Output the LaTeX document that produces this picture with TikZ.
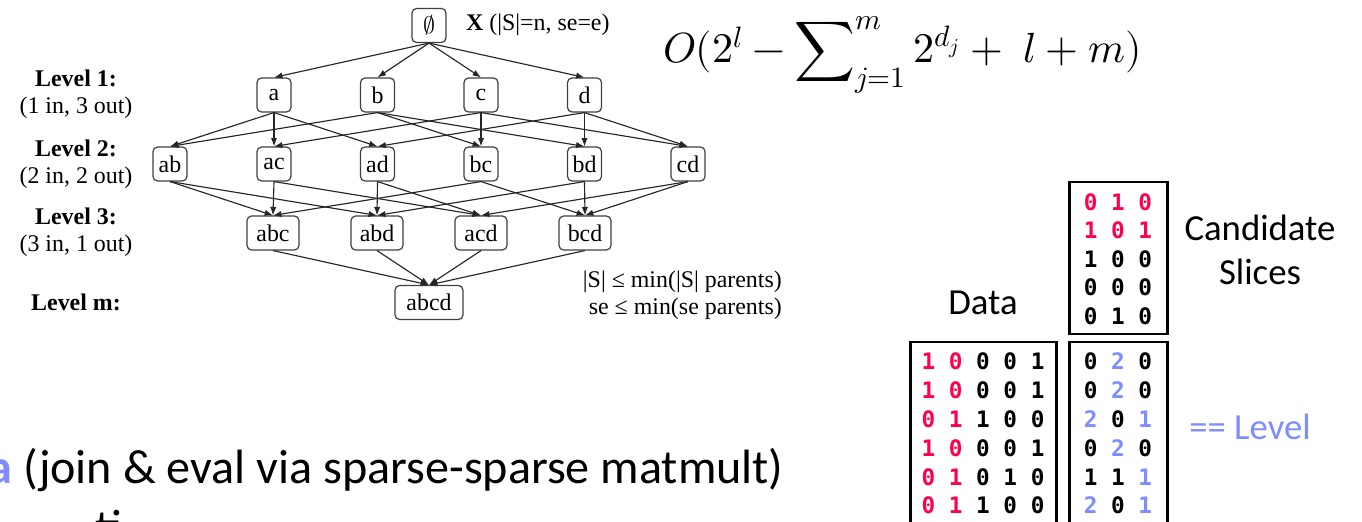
\documentclass[tikz,border=0pt]{standalone}
\usepackage{fontspec}
\usepackage{unicode-math}
\setmainfont{Liberation Serif}
\setmathfont{Latin Modern Math}
\newfontfamily\slidefont{Carlito}
\newfontfamily\bitfont{DejaVu Sans Mono}
\usetikzlibrary{arrows.meta}
\definecolor{hotred}{RGB}{255,0,80}
\definecolor{lvlblue}{RGB}{125,140,255}
\newcommand{\hr}[1]{\textcolor{hotred}{#1}}
\newcommand{\lb}[1]{\textcolor{lvlblue}{#1}}
\begin{document}
\begin{tikzpicture}[x=0.02cm, y=-0.02cm,
		set/.style={draw=black!75, rounded corners=2.5pt, line width=0.7pt, inner sep=1pt, minimum width=19.3pt, minimum height=19.3pt, font=\fontsize{13.6}{15}\selectfont},
		set3/.style={set, minimum width=29.5pt},
		set4/.style={set, minimum width=38.6pt},
		edge/.style={draw=black!85, line width=0.65pt, -{Latex[length=4.8pt,width=3.6pt]}},
		lvl/.style={align=center, font=\fontsize{13.6}{15.5}\selectfont},
		slide/.style={font=\slidefont\fontsize{20.9}{25}\selectfont},
		bits/.style={font=\bitfont\bfseries\fontsize{12.9}{14}\selectfont, inner sep=0pt},
		mbox/.style={draw, line width=1.7pt}]
	\useasboundingbox (0,0) rectangle (1362,521);
	\clip (0,0) rectangle (1362,521);
	% lattice
	\node[set] (s0) at (429,25.5) {$\emptyset$};
	\node[set] (sa) at (274,95) {a};
	\node[set] (sb) at (377.5,95) {b};
	\node[set] (sc) at (481,95) {c};
	\node[set] (sd) at (584.5,95) {d};
	\node[set] (sab) at (170,164) {ab};
	\node[set] (sac) at (274,164) {ac};
	\node[set] (sad) at (377.5,164) {ad};
	\node[set] (sbc) at (481,164) {bc};
	\node[set] (sbd) at (584.5,164) {bd};
	\node[set] (scd) at (688,164) {cd};
	\node[set3] (sabc) at (273,233) {abc};
	\node[set3] (sabd) at (377,233) {abd};
	\node[set3] (sacd) at (481,233) {acd};
	\node[set3] (sbcd) at (585,233) {bcd};
	\node[set4] (sabcd) at (429,302.5) {abcd};
	\draw[edge] (s0.south) -- (sa.north);
	\draw[edge] (s0.south) -- (sb.north);
	\draw[edge] (s0.south) -- (sc.north);
	\draw[edge] (s0.south) -- (sd.north);
	\draw[edge] (sa.south) -- (sab.north);
	\draw[edge] (sa.south) -- (sac.north);
	\draw[edge] (sa.south) -- (sad.north);
	\draw[edge] (sb.south) -- (sab.north);
	\draw[edge] (sb.south) -- (sbc.north);
	\draw[edge] (sb.south) -- (sbd.north);
	\draw[edge] (sc.south) -- (sac.north);
	\draw[edge] (sc.south) -- (sbc.north);
	\draw[edge] (sc.south) -- (scd.north);
	\draw[edge] (sd.south) -- (sad.north);
	\draw[edge] (sd.south) -- (sbd.north);
	\draw[edge] (sd.south) -- (scd.north);
	\draw[edge] (sab.south) -- (sabc.north);
	\draw[edge] (sab.south) -- (sabd.north);
	\draw[edge] (sac.south) -- (sabc.north);
	\draw[edge] (sac.south) -- (sacd.north);
	\draw[edge] (sad.south) -- (sabd.north);
	\draw[edge] (sad.south) -- (sacd.north);
	\draw[edge] (sbc.south) -- (sabc.north);
	\draw[edge] (sbc.south) -- (sbcd.north);
	\draw[edge] (sbd.south) -- (sabd.north);
	\draw[edge] (sbd.south) -- (sbcd.north);
	\draw[edge] (scd.south) -- (sacd.north);
	\draw[edge] (scd.south) -- (sbcd.north);
	\draw[edge] (sabc.south) -- (sabcd.north);
	\draw[edge] (sabd.south) -- (sabcd.north);
	\draw[edge] (sacd.south) -- (sabcd.north);
	\draw[edge] (sbcd.south) -- (sabcd.north);
	% labels
	\node[lvl, anchor=west] (xlab) at (460,25) {\textbf{X} (|S|=n, se=e)};
	\node[lvl] (lv1) at (76,94) {\textbf{Level 1:}\\(1 in, 3 out)};
	\node[lvl] (lv2) at (76,164) {\textbf{Level 2:}\\(2 in, 2 out)};
	\node[lvl] (lv3) at (76,232) {\textbf{Level 3:}\\(3 in, 1 out)};
	\node[lvl] (lvm) at (76,302) {\textbf{Level m:}};
	\node[lvl, align=right, anchor=east] (bound) at (788,295) {|S| ≤ min(|S| parents)\\se ≤ min(se parents)};
	\node[anchor=west, inner sep=0pt, font=\fontsize{24}{28}\selectfont] (cost) at (663,55) {$\displaystyle O(2^l-\sum\nolimits_{j=1}^m 2^{d_j}+\;l+m)$};
	% matrices
	\node[slide] (data) at (983,303) {Data};
	\node[slide, align=center] (cand) at (1260,250) {Candidate\\Slices};
	\node[slide, text=lvlblue] (lvl) at (1250,427) {== Level};
	\draw[mbox] (1069,182) rectangle (1167,334);
	\draw[mbox] (1069,342) rectangle (1167,540);
	\draw[mbox] (910,342) rectangle (1056,540);
	\node[bits] (c1) at (1118,202) {\hr{0 1 0}};
	\node[bits] (c2) at (1118,230.5) {\hr{1 0 1}};
	\node[bits] (c3) at (1118,259) {1 0 0};
	\node[bits] (c4) at (1118,287.5) {0 0 0};
	\node[bits] (c5) at (1118,316) {0 1 0};
	\node[bits] (d1) at (983,361.7) {\hr{1 0} 0 0 1};
	\node[bits] (d2) at (983,390.5) {\hr{1 0} 0 0 1};
	\node[bits] (d3) at (983,419.3) {\hr{0 1} 1 0 0};
	\node[bits] (d4) at (983,448.1) {\hr{1 0} 0 0 1};
	\node[bits] (d5) at (983,476.9) {\hr{0 1} 0 1 0};
	\node[bits] (d6) at (983,505.7) {\hr{0 1} 1 0 0};
	\node[bits] (r1) at (1118,361.7) {0 \lb{2} 0};
	\node[bits] (r2) at (1118,390.5) {0 \lb{2} 0};
	\node[bits] (r3) at (1118,419.3) {\lb{2} 0 \lb{1}};
	\node[bits] (r4) at (1118,448.1) {0 \lb{2} 0};
	\node[bits] (r5) at (1118,476.9) {1 1 \lb{1}};
	\node[bits] (r6) at (1118,505.7) {\lb{2} 0 \lb{1}};
	% slide text
	\node[anchor=base west, inner sep=0pt, font=\slidefont\fontsize{27.4}{33}\selectfont] (join) at (-12,483) {\lb{\bfseries a} (join \& eval via sparse-sparse matmult)};
	\node[anchor=base west, inner sep=0pt, font=\slidefont\fontsize{27.4}{33}\selectfont] (next) at (95,543) {ti};
\end{tikzpicture}
\end{document}
